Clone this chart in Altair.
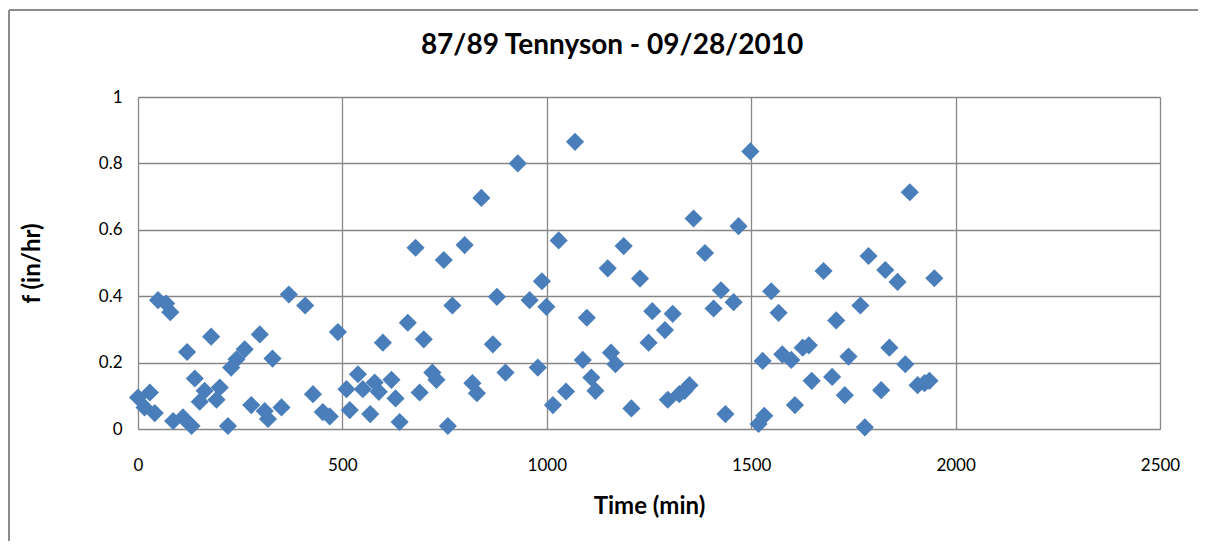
import altair as alt
import pandas as pd

time_min = [0, 16, 29, 41, 49, 69, 79, 86, 110, 120, 131, 139, 151, 163, 179, 192, 200, 220, 228, 241,
            261, 277, 298, 310, 318, 329, 351, 369, 409, 428, 452, 469, 489, 510, 518, 538, 550, 568, 579, 589,
            599, 620, 630, 640, 660, 679, 689, 699, 720, 730, 748, 758, 769, 799, 818, 829, 840, 868, 878, 899,
            929, 958, 978, 988, 999, 1015, 1029, 1047, 1069, 1088, 1098, 1109, 1119, 1149, 1157, 1168, 1188, 1207, 1228, 1249,
            1258, 1289, 1296, 1308, 1324, 1337, 1349, 1359, 1387, 1408, 1426, 1437, 1457, 1469, 1498, 1518, 1528, 1532, 1549, 1567,
            1576, 1598, 1607, 1626, 1641, 1648, 1677, 1698, 1708, 1729, 1738, 1767, 1778, 1787, 1818, 1828, 1838, 1858, 1877, 1888,
            1907, 1924, 1936, 1948]
f_in_hr = [0.095, 0.065, 0.11, 0.048, 0.388, 0.378, 0.352, 0.024, 0.035, 0.232, 0.009, 0.152, 0.082, 0.115, 0.278, 0.088, 0.125, 0.009, 0.185, 0.21,
           0.24, 0.072, 0.285, 0.054, 0.03, 0.212, 0.065, 0.405, 0.372, 0.105, 0.051, 0.038, 0.292, 0.12, 0.057, 0.165, 0.12, 0.045, 0.14, 0.112,
           0.26, 0.148, 0.092, 0.021, 0.32, 0.546, 0.11, 0.27, 0.17, 0.148, 0.509, 0.009, 0.372, 0.554, 0.138, 0.108, 0.696, 0.255, 0.398, 0.17,
           0.80, 0.388, 0.185, 0.445, 0.368, 0.072, 0.568, 0.113, 0.865, 0.208, 0.335, 0.155, 0.115, 0.484, 0.23, 0.195, 0.551, 0.062, 0.453, 0.26,
           0.355, 0.298, 0.088, 0.347, 0.105, 0.115, 0.132, 0.634, 0.53, 0.363, 0.418, 0.045, 0.382, 0.611, 0.836, 0.015, 0.205, 0.04, 0.415, 0.35,
           0.225, 0.208, 0.072, 0.245, 0.252, 0.145, 0.476, 0.157, 0.327, 0.102, 0.218, 0.372, 0.005, 0.521, 0.117, 0.479, 0.245, 0.443, 0.195, 0.713,
           0.132, 0.138, 0.145, 0.454]

x_ticks = [0, 500, 1000, 1500, 2000, 2500]
y_ticks = [0, 0.2, 0.4, 0.6, 0.8, 1]
chart_title = ["87/89 Tennyson - 09/28/2010"]

df = pd.DataFrame({"t": time_min, "f": f_in_hr})
title_df = pd.DataFrame({"label": chart_title})

FONT = "Lato"
GRID = "#878787"

points = alt.Chart(df).mark_point(
    shape="diamond", filled=True, size=330, color="#4A7EBB", opacity=1
).encode(
    x=alt.X("t:Q", scale=alt.Scale(domain=[0, 2500], nice=False),
            axis=alt.Axis(values=x_ticks, format="d", title="Time (min)", grid=True, gridColor=GRID, gridWidth=1.3,
                          domain=False, ticks=False, labelFontSize=17, labelFont=FONT, labelColor="#000",
                          labelPadding=28, labelFlush=False, titleFont=FONT, titleFontSize=24, titleFontWeight="bold",
                          titleColor="#000", titlePadding=21)),
    y=alt.Y("f:Q", scale=alt.Scale(domain=[0, 1], nice=False),
            axis=alt.Axis(values=y_ticks, format=".1~f", title="f (in/hr)", grid=True, gridColor=GRID, gridWidth=1.3,
                          domain=False, ticks=False, labelFontSize=17, labelFont=FONT, labelColor="#000",
                          labelPadding=16, labelFlush=False, titleFont=FONT, titleFontSize=24, titleFontWeight="bold",
                          titleColor="#000", titlePadding=54)),
)

title_mark = alt.Chart(title_df).mark_text(
    font=FONT, fontSize=28, fontWeight="bold", color="#000", align="center", baseline="middle"
).encode(text="label:N", x=alt.value(474), y=alt.value(-51))

left_border = alt.Chart(df).mark_rule(color="#8c8c8c", strokeWidth=1.5).encode(
    x=alt.value(-129), y=alt.value(-87), y2=alt.value(445)
)
top_border = alt.Chart(df).mark_rule(color="#8c8c8c", strokeWidth=1.5).encode(
    x=alt.value(-129), x2=alt.value(1060), y=alt.value(-87)
)

chart = alt.layer(points, title_mark, left_border, top_border).properties(
    width=1022, height=332,
    autosize=alt.AutoSizeParams(type="none"),
    padding={"left": 130, "top": 89, "right": 42, "bottom": 112},
).configure_view(stroke=GRID, strokeWidth=1.3).configure(background="white")

chart.save("out.html", embed_options={"renderer": "svg", "actions": False})
